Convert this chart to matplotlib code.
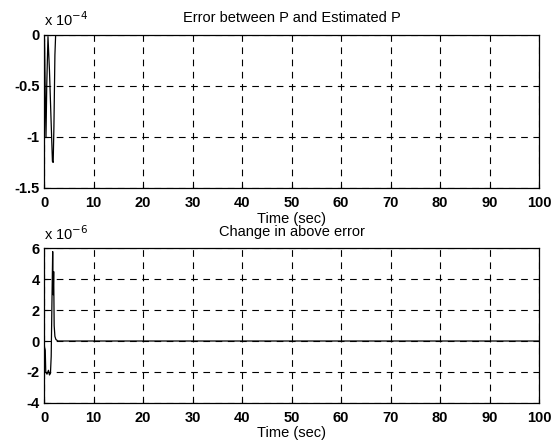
import numpy as np
import matplotlib.pyplot as plt
from matplotlib.ticker import FuncFormatter

# error between P and estimated P (units of 1e-4)
t_err = [0, 0.1, 0.25, 0.4, 0.55, 0.8, 1.1, 1.4, 1.7, 1.85, 2.0, 2.2, 2.35, 3, 100]
v_err = [0, -0.05, -0.6, -1.0, -0.5, -0.02, -0.35, -0.8, -1.24, -1.25, -0.9, -0.2, 0, 0, 0]

# change in above error (units of 1e-6)
t_chg = [0, 0.1, 0.25, 0.35, 0.6, 0.9, 1.1, 1.3, 1.45, 1.6, 1.75, 1.85, 1.95, 2.05, 2.2, 2.4, 2.8, 100]
v_chg = [0, -0.4, -0.6, -2.0, -2.15, -1.9, -2.2, -2.1, -1.0, 2.5, 5.8, 3.0, 4.5, 1.0, 0.3, 0.1, 0, 0]

x_ticks = np.arange(0, 101, 10)
err_ticks = [0, -0.5, -1, -1.5]
chg_ticks = [6, 4, 2, 0, -2, -4]

plt.rcParams['font.family'] = ['Liberation Sans', 'DejaVu Sans']
plt.rcParams['font.size'] = 10.5

fig = plt.figure(figsize=(5.6, 4.42), dpi=100)
ax1 = fig.add_axes([0.0786, 0.5747, 0.884, 0.347])
ax2 = fig.add_axes([0.0786, 0.0889, 0.884, 0.349])


def setup(ax, ticks, scale, ylim, exp, title):
    ax.set_xlim(0, 100)
    ax.set_ylim(*ylim)
    ax.set_xticks(x_ticks)
    ax.set_yticks([v * scale for v in ticks])
    ax.yaxis.set_major_formatter(FuncFormatter(lambda v, p: f'{v / scale:g}'))
    ax.grid(True, color='black', linestyle=(0, (6, 5)), linewidth=0.8)
    ax.tick_params(direction='in', length=3, width=0.8, labelsize=10.5)
    ax.tick_params(axis='x', pad=6)
    ax.tick_params(axis='y', pad=3)
    for lab in ax.get_xticklabels() + ax.get_yticklabels():
        lab.set_fontweight('bold')
    for sp in ax.spines.values():
        sp.set_linewidth(0.9)
    ax.set_xlabel('Time (sec)', fontsize=10.5, labelpad=1)
    ax.set_title(title, fontsize=10.5, pad=9)
    ax.annotate(r'x 10$^{%d}$' % exp, xy=(0, 1), xycoords='axes fraction',
                xytext=(0, 6), textcoords='offset points', fontsize=10.5)


ax1.plot(t_err, np.array(v_err) * 1e-4, color='black', linewidth=0.9)
setup(ax1, err_ticks, 1e-4, (-1.5e-4, 0), -4, 'Error between P and Estimated P')

ax2.plot(t_chg, np.array(v_chg) * 1e-6, color='black', linewidth=0.9)
setup(ax2, chg_ticks, 1e-6, (-4e-6, 6e-6), -6, 'Change in above error')

fig.savefig('out.png', dpi=100)
